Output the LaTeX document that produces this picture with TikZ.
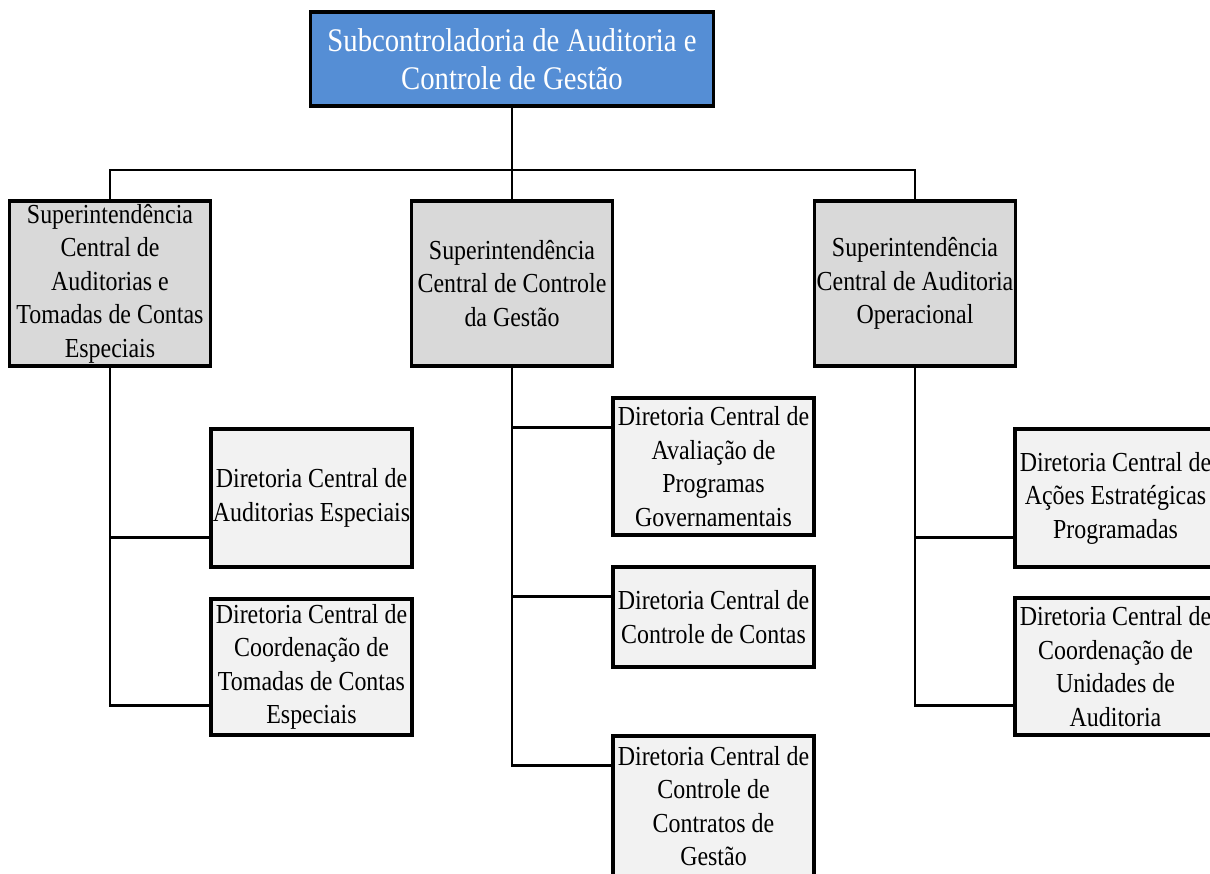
\documentclass[tikz,border=0pt]{standalone}
\usepackage{fontspec}
\usetikzlibrary{calc,backgrounds}
\newfontfamily\orgfont{Liberation Serif}[FakeStretch=0.87]
\definecolor{headblue}{HTML}{558ED5}
\definecolor{supgray}{HTML}{D9D9D9}
\definecolor{dirgray}{HTML}{F2F2F2}
\begin{document}
\begin{tikzpicture}[x=1pt,y=-1pt,
  box/.style={draw=black,line width=3.2pt,rectangle,inner sep=0pt,align=center,
    font=\orgfont\fontsize{27.5}{33.5}\selectfont},
  headbox/.style={box,fill=headblue,text=white,minimum width=403pt,minimum height=94pt,
    font=\orgfont\fontsize{33}{38}\selectfont},
  supbox/.style={box,fill=supgray,minimum width=201pt,minimum height=165pt},
  dirbox/.style={box,fill=dirgray,minimum width=201pt},
  conn/.style={draw=black,line width=2.7pt}]
\clip (0,0) rectangle (1210,874);

% level of the horizontal bus
\coordinate (bus) at (0,170);

% top level
\node[headbox] (top) at (512,59) {Subcontroladoria de Auditoria e\\Controle de Gestão};

% superintendências
\node[supbox] (sup1) at (110,283.5) {Superintendência\\Central de\\Auditorias e\\Tomadas de Contas\\Especiais};
\node[supbox] (sup2) at (512,283.5) {Superintendência\\Central de Controle\\da Gestão};
\node[supbox] (sup3) at (915,283.5) {Superintendência\\Central de Auditoria\\Operacional};

% diretorias (left branch)
\node[dirbox,minimum height=138pt] (d11) at (311.5,498) {Diretoria Central de\\Auditorias Especiais};
\node[dirbox,minimum height=136pt] (d12) at (311.5,667) {Diretoria Central de\\Coordenação de\\Tomadas de Contas\\Especiais};

% diretorias (middle branch)
\node[dirbox,minimum height=137pt] (d21) at (713.5,466.5) {Diretoria Central de\\Avaliação de\\Programas\\Governamentais};
\node[dirbox,minimum height=100pt] (d22) at (713.5,617) {Diretoria Central de\\Controle de Contas};
\node[dirbox,minimum height=140pt] (d23) at (713.5,806) {Diretoria Central de\\Controle de\\Contratos de\\Gestão};

% diretorias (right branch)
\node[dirbox,minimum height=138pt] (d31) at (1115.5,498) {Diretoria Central de\\Ações Estratégicas\\Programadas};
\node[dirbox,minimum height=137pt] (d32) at (1115.5,666.5) {Diretoria Central de\\Coordenação de\\Unidades de\\Auditoria};

% branch points on the diretoria boxes
\coordinate (b11) at ($(d11.south west)+(0,-31)$);
\coordinate (b12) at ($(d12.south west)+(0,-31)$);
\coordinate (b21) at ($(d21.north west)+(0,31)$);
\coordinate (b22) at ($(d22.north west)+(0,31)$);
\coordinate (b23) at ($(d23.north west)+(0,31)$);
\coordinate (b31) at ($(d31.south west)+(0,-31)$);
\coordinate (b32) at ($(d32.south west)+(0,-31)$);

\begin{scope}[on background layer]
\fill[white] (0,0) rectangle (1210,874);
% top to superintendências
\draw[conn] (top.south) -- (sup2.north);
\draw[conn] (sup1.north) -- (sup1.north |- bus) -- (sup3.north |- bus) -- (sup3.north);
% superintendências to diretorias
\draw[conn] (sup1.south) -- (sup1.south |- b12) -- (b12);
\draw[conn] (sup1.south |- b11) -- (b11);
\draw[conn] (sup2.south) -- (sup2.south |- b23) -- (b23);
\draw[conn] (sup2.south |- b21) -- (b21);
\draw[conn] (sup2.south |- b22) -- (b22);
\draw[conn] (sup3.south) -- (sup3.south |- b32) -- (b32);
\draw[conn] (sup3.south |- b31) -- (b31);
\end{scope}
\end{tikzpicture}
\end{document}
